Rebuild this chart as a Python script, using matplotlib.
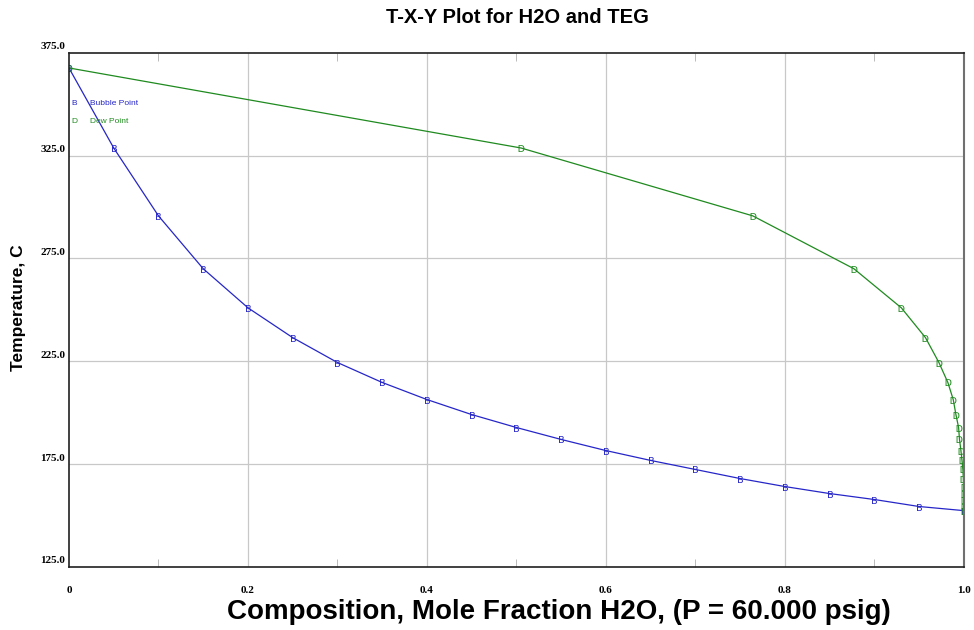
import numpy as np
import matplotlib.pyplot as plt
from matplotlib.ticker import MultipleLocator, FixedLocator

# Temperatures (C) shared by bubble and dew points
temps = [367.6, 328.7, 295.7, 270.0, 251.0, 236.5, 224.4, 214.7, 206.4, 199.1,
         192.8, 187.0, 181.6, 176.8, 172.4, 168.0, 164.1, 160.7, 157.8, 154.4, 152.4]

# Liquid mole fraction H2O (bubble point)
x_bubble = [0.0, 0.05, 0.10, 0.15, 0.20, 0.25, 0.30, 0.35, 0.40, 0.45,
            0.50, 0.55, 0.60, 0.65, 0.70, 0.75, 0.80, 0.85, 0.90, 0.95, 1.0]

# Vapour mole fraction H2O (dew point)
y_dew = [0.0, 0.505, 0.764, 0.877, 0.930, 0.957, 0.972, 0.982, 0.988, 0.991,
         0.994, 0.995, 0.9966, 0.9978, 0.9988, 0.9993, 0.9996, 0.9998, 0.9999, 0.99995, 1.0]

blue = '#2626c8'
green = '#1f8a1f'

fig = plt.figure(figsize=(9.74, 6.3), dpi=100)
ax = fig.add_axes([0.0708, 0.1, 0.9189, 0.8163])

ax.plot(x_bubble, temps, color=blue, lw=0.9, marker='$\\mathsf{B}$', ms=5, mew=0)
ax.plot(y_dew, temps, color=green, lw=0.9, marker='$\\mathsf{D}$', ms=5, mew=0)

ax.set_xlim(0, 1.0)
ax.set_ylim(125, 375)

ax.xaxis.set_major_locator(FixedLocator([0, 0.2, 0.4, 0.6, 0.8, 1.0]))
ax.set_xticklabels(['0', '0.2', '0.4', '0.6', '0.8', '1.0'])
ax.xaxis.set_minor_locator(FixedLocator([0.1, 0.3, 0.5, 0.7, 0.9]))
ax.yaxis.set_major_locator(MultipleLocator(50))
ax.set_yticklabels([])
ax.yaxis.set_minor_locator(FixedLocator([150, 200, 250, 300, 350]))

for yv in [175, 225, 275, 325]:
    ax.axhline(yv, color='#c8c8c8', lw=0.9, zorder=0)
for xv in [0.2, 0.4, 0.6, 0.8]:
    ax.axvline(xv, color='#c8c8c8', lw=0.9, zorder=0)

ax.tick_params(which='major', length=0, pad=14)
ax.tick_params(which='minor', direction='in', length=6, width=0.6, color='#b0b0b0',
               top=True, right=True)
for lab in ax.get_xticklabels():
    lab.set_fontfamily('Liberation Serif')
    lab.set_fontweight('bold')
    lab.set_fontsize(8)

# y tick labels (placed slightly above the value, as in the original)
for yv in [125, 175, 225, 275, 325, 375]:
    ax.text(-0.004, yv + 0.8, '%.1f' % yv, transform=ax.get_yaxis_transform(),
            ha='right', va='bottom', fontsize=8, fontweight='bold',
            family='Liberation Serif')

for side in ['left', 'bottom', 'top']:
    ax.spines[side].set_color('#202020')
    ax.spines[side].set_linewidth(1.2)
ax.spines['right'].set_color('#707070')
ax.spines['right'].set_linewidth(1.5)

# legend
ax.text(0.003, 350.1, 'B', color=blue, fontsize=6, va='center', family='Liberation Sans')
ax.text(0.024, 350.1, 'Bubble Point', color=blue, fontsize=6, va='center', family='Liberation Sans')
ax.text(0.003, 341.8, 'D', color=green, fontsize=6, va='center', family='Liberation Sans')
ax.text(0.024, 341.8, 'Dew Point', color=green, fontsize=6, va='center', family='Liberation Sans')

fig.text(0.531, 0.972, 'T-X-Y Plot for H2O and TEG', ha='center', va='center',
         fontsize=14.5, fontweight='bold', family='Liberation Sans')
fig.text(0.5735, 0.028, 'Composition, Mole Fraction H2O, (P = 60.000 psig)', ha='center',
         va='center', fontsize=20, fontweight='bold', family='Liberation Sans')
fig.text(0.019, 0.511, 'Temperature, C', rotation=90, ha='center', va='center',
         fontsize=12.5, fontweight='bold', family='Liberation Sans')

fig.savefig('out.png', dpi=100)
